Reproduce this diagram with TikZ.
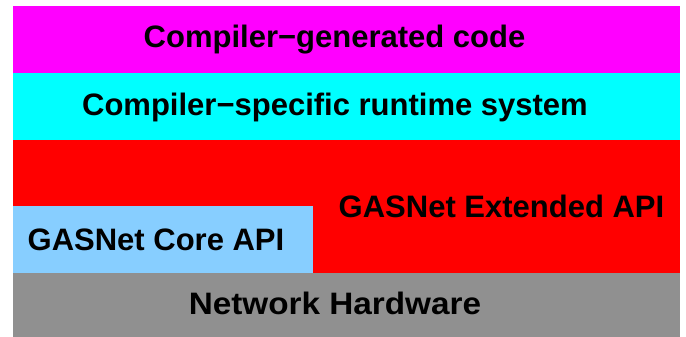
\documentclass[tikz,border=0pt]{standalone}
\usepackage{fontspec}
\setmainfont{Liberation Sans}
\definecolor{layermag}{RGB}{255,0,255}
\definecolor{layercyan}{RGB}{0,255,255}
\definecolor{layerred}{RGB}{255,0,0}
\definecolor{layerblue}{RGB}{135,206,255}
\definecolor{layergray}{RGB}{144,144,144}
\tikzset{
  layer/.style={inner sep=0pt, outer sep=0pt, draw=none},
  lbl/.style={anchor=base, inner sep=0pt, font=\fontsize{31}{31}\selectfont\bfseries, text=black}
}
\begin{document}
\begin{tikzpicture}[x=1pt,y=-1pt]
\useasboundingbox (0,0) rectangle (686,337);
\fill[white] (0,0) rectangle (686,337);
\fill[layermag]  (13,6)   rectangle (680,72.7);
\fill[layercyan] (13,72.7) rectangle (680,140);
\fill[layerred]  (13,140) rectangle (680,273);
\fill[layerblue] (13,206) rectangle (313,273);
\fill[layergray] (13,273) rectangle (680,337);
\node[lbl] (gen) at (334.5,48) {Compiler−generated code};
\node[lbl] (rts) at (335,116) {Compiler−specific runtime system};
\node[lbl] (ext) at (501.5,217) {GASNet Extended API};
\node[lbl] (core) at (156,250) {GASNet Core API};
\node[lbl, xscale=1.074] (hw) at (335,314) {Network Hardware};
\end{tikzpicture}
\end{document}
